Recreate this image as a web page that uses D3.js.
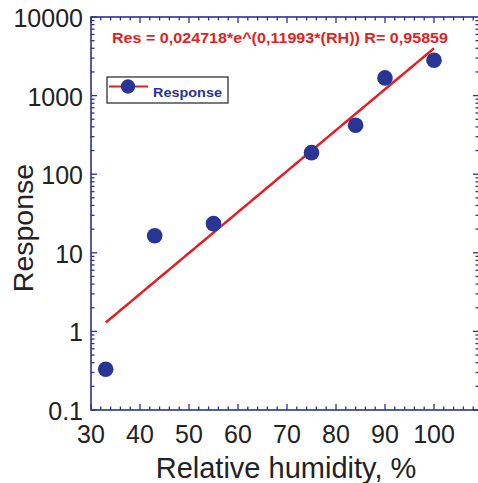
<!DOCTYPE html>
<html><head><meta charset="utf-8">
<script src="https://cdn.jsdelivr.net/npm/d3@7"></script>
<style>body{margin:0;background:#fff}svg{display:block}</style>
</head><body>
<script>
const humidity = [33, 43, 55, 75, 84, 90, 100];
const response = [0.33, 16.5, 23.5, 188, 420, 1680, 2820];
const fitA = 0.024718, fitB = 0.11993;
const fitRange = [33, 100];
const xTicks = [30, 40, 50, 60, 70, 80, 90, 100];
const yTicks = [0.1, 1, 10, 100, 1000, 10000];
const yTickLabels = ["0.1", "1", "10", "100", "1000", "10000"];
const eqText = "Res = 0,024718*e^(0,11993*(RH)) R= 0,95859";
const legendLabel = "Response";

const W = 478, H = 483;
const L = 91, T = 17, R = 479, B = 410;
const axisCol = "#2e3192", dotCol = "#283593", lineCol = "#e31e24";

const svg = d3.select("body").append("svg").attr("width", W).attr("height", H);
const x = d3.scaleLinear().domain([30, 30 + (R - L) / 4.9]).range([L, R]);
const y = d3.scaleLog().domain([0.1, 10000]).range([B, T]);

// frame
svg.append("rect").attr("x", L).attr("y", T).attr("width", R - L).attr("height", B - T)
  .attr("fill", "none").attr("stroke", axisCol).attr("stroke-width", 1.6);

// x ticks (bottom & top, inward)
const xMinor = d3.range(30, x.domain()[1] + 0.01, 2);
const tk = svg.append("g").attr("stroke", axisCol).attr("stroke-width", 1.3);
xMinor.forEach(v => {
  const major = Math.abs(v % 10) < 1e-6;
  const len = major ? 6 : 3.5;
  const px = x(v);
  tk.append("line").attr("x1", px).attr("x2", px).attr("y1", B).attr("y2", B - len);
  tk.append("line").attr("x1", px).attr("x2", px).attr("y1", T).attr("y2", T + len);
});
// y ticks (left & right)
for (let e = -1; e < 4; e++) {
  for (let m = 1; m < 10; m++) {
    const v = m * Math.pow(10, e);
    const len = m === 1 ? 6 : 3.5;
    tk.append("line").attr("x1", L).attr("x2", L + len).attr("y1", y(v)).attr("y2", y(v));
    tk.append("line").attr("x1", R).attr("x2", R - len).attr("y1", y(v)).attr("y2", y(v));
  }
}
tk.append("line").attr("x1", L).attr("x2", L + 6).attr("y1", y(10000)).attr("y2", y(10000));

// tick labels
const font = "Liberation Sans, Arial, sans-serif";
svg.append("g").selectAll("text").data(xTicks).join("text")
  .attr("x", d => x(d)).attr("y", 443).attr("text-anchor", "middle")
  .attr("font-family", font).attr("font-size", 25).attr("fill", "#222").text(d => d);
svg.append("g").selectAll("text").data(yTicks).join("text")
  .attr("x", L - 8).attr("y", d => y(d) + 10).attr("text-anchor", "end")
  .attr("font-family", font).attr("font-size", 25).attr("fill", "#222")
  .text((d, i) => yTickLabels[i]);

// axis titles
svg.append("text").attr("x", 286).attr("y", 478).attr("text-anchor", "middle")
  .attr("font-family", font).attr("font-size", 29).attr("fill", "#222").text("Relative humidity, %");
svg.append("text").attr("transform", "translate(33,228) rotate(-90)").attr("text-anchor", "middle")
  .attr("font-family", font).attr("font-size", 28.5).attr("fill", "#222").text("Response");

// fit line
const fitData = d3.range(fitRange[0], fitRange[1] + 0.001, 0.5);
svg.append("path").datum(fitData)
  .attr("d", d3.line().x(d => x(d)).y(d => y(fitA * Math.exp(fitB * d))))
  .attr("fill", "none").attr("stroke", lineCol).attr("stroke-width", 2.5);

// points
svg.append("g").selectAll("circle").data(humidity).join("circle")
  .attr("cx", d => x(d)).attr("cy", (d, i) => y(response[i])).attr("r", 7.8).attr("fill", dotCol);

// equation
svg.append("text").attr("x", 112).attr("y", 43)
  .attr("font-family", font).attr("font-size", 15.5).attr("font-weight", "bold")
  .attr("textLength", 336).attr("lengthAdjust", "spacingAndGlyphs")
  .attr("fill", lineCol).text(eqText);

// legend
const lg = svg.append("g");
lg.append("rect").attr("x", 107).attr("y", 77).attr("width", 121).attr("height", 26)
  .attr("fill", "#fff").attr("stroke", "#333").attr("stroke-width", 1.3);
lg.append("line").attr("x1", 109).attr("x2", 148).attr("y1", 86.5).attr("y2", 86.5)
  .attr("stroke", lineCol).attr("stroke-width", 2);
lg.append("circle").attr("cx", 128).attr("cy", 86.5).attr("r", 7.2).attr("fill", dotCol);
lg.append("text").attr("x", 153).attr("y", 97).attr("font-family", font).attr("font-size", 13.5)
  .attr("textLength", 69).attr("lengthAdjust", "spacingAndGlyphs")
  .attr("font-weight", "bold").attr("fill", dotCol).text(legendLabel);
</script>
</body></html>
